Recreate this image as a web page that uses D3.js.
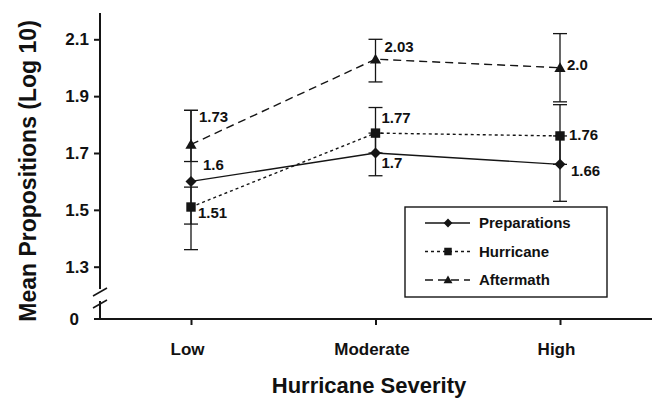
<!DOCTYPE html>
<html>
<head>
<meta charset="utf-8">
<script src="https://cdn.jsdelivr.net/npm/d3@7"></script>
<style>
  html, body { margin: 0; padding: 0; background: #fff; }
  svg { display: block; }
  text { font-family: "Liberation Sans", Arial, Helvetica, sans-serif; font-weight: bold; fill: #111; }
</style>
</head>
<body>
<svg id="chart" width="654" height="402"></svg>
<script>
// Severity levels on the x axis
const categories = ["Low", "Moderate", "High"];
const seriesNames = ["Preparations", "Hurricane", "Aftermath"];

// Mean propositions (log 10) per phase
const preparations = [1.6, 1.7, 1.66];
const hurricane = [1.51, 1.77, 1.76];
const aftermath = [1.73, 2.03, 2.0];

// Error bar bounds per phase
const preparationsLower = [1.36, 1.62, 1.53];
const preparationsUpper = [1.85, 1.77, 1.76];
const hurricaneLower = [1.45, 1.70, 1.66];
const hurricaneUpper = [1.58, 1.86, 1.87];
const aftermathLower = [1.67, 1.95, 1.88];
const aftermathUpper = [1.85, 2.10, 2.12];

const yTicks = [1.3, 1.5, 1.7, 1.9, 2.1];
const yBreakLabel = "0";
const xTitle = "Hurricane Severity";
const yTitle = "Mean Propositions (Log 10)";

const ink = "#151515";
const svg = d3.select("#chart");

const x = d3.scalePoint().domain(categories).range([191, 560]);
const y = d3.scaleLinear().domain([1.3, 2.1]).range([266.7, 39.3]);
const axisY0 = 319;   // baseline where the broken axis meets zero
const axisX0 = 100;

// Value labels keep at least one decimal place (2.0, 1.6, 1.66)
const fmtValue = v => Number.isInteger(v) ? v.toFixed(1) : String(v);

const series = [
  { name: seriesNames[0], values: preparations, lower: preparationsLower, upper: preparationsUpper,
    dash: null, marker: "diamond",
    nudge: [[12, -11], [6, 15], [11, 12]] },
  { name: seriesNames[1], values: hurricane, lower: hurricaneLower, upper: hurricaneUpper,
    dash: "3,3", marker: "square",
    nudge: [[7, 11], [6, -10], [9, 4]] },
  { name: seriesNames[2], values: aftermath, lower: aftermathLower, upper: aftermathUpper,
    dash: "8,5", marker: "triangle",
    nudge: [[8, -22], [9, -7], [7, 2]] }
];

function markerPath(kind, s) {
  if (kind === "diamond") {
    const h = s * 0.55;
    return `M0,${-h}L${h},0L0,${h}L${-h},0Z`;
  }
  if (kind === "square") {
    const h = s * 0.47;
    return `M${-h},${-h}H${h}V${h}H${-h}Z`;
  }
  const w = s * 0.56;
  return `M0,${-s * 0.55}L${w},${s * 0.42}L${-w},${s * 0.42}Z`;
}

// Y axis: ticks and labels from the scale, line drawn with a break
const yAxis = d3.axisLeft(y).tickValues(yTicks).tickFormat(d3.format(".1f")).tickSize(6).tickPadding(5);
const gy = svg.append("g").attr("transform", `translate(${axisX0},0)`).call(yAxis);
gy.select(".domain").remove();
gy.selectAll(".tick line").attr("stroke", ink).attr("stroke-width", 2);
gy.selectAll(".tick text").attr("font-size", 17).attr("fill", ink)
  .style("font-family", "'Liberation Sans', Arial, sans-serif").style("font-weight", "bold");

svg.append("line").attr("x1", axisX0).attr("x2", axisX0).attr("y1", 13).attr("y2", 289)
  .attr("stroke", ink).attr("stroke-width", 2);
svg.append("line").attr("x1", axisX0).attr("x2", axisX0).attr("y1", 301).attr("y2", axisY0 + 1)
  .attr("stroke", ink).attr("stroke-width", 2);
[292, 304].forEach(cy => {
  svg.append("line").attr("x1", axisX0 - 7).attr("y1", cy + 4).attr("x2", axisX0 + 7).attr("y2", cy - 4)
    .attr("stroke", ink).attr("stroke-width", 1.6);
});
svg.append("line").attr("x1", axisX0 - 6).attr("x2", axisX0).attr("y1", axisY0).attr("y2", axisY0)
  .attr("stroke", ink).attr("stroke-width", 2);
svg.append("text").attr("x", 79).attr("y", axisY0).attr("dy", "0.35em")
  .attr("text-anchor", "end").attr("font-size", 17).text(yBreakLabel);

// X axis
const xAxis = d3.axisBottom(x).tickSize(6).tickPadding(18);
const gx = svg.append("g").attr("transform", `translate(0,${axisY0})`).call(xAxis);
gx.select(".domain").remove();
gx.selectAll(".tick line").attr("stroke", ink).attr("stroke-width", 2);
gx.selectAll(".tick text").attr("font-size", 17).attr("fill", ink).attr("dx", -4)
  .style("font-family", "'Liberation Sans', Arial, sans-serif").style("font-weight", "bold");
svg.append("line").attr("x1", axisX0 - 1).attr("x2", 652).attr("y1", axisY0).attr("y2", axisY0)
  .attr("stroke", ink).attr("stroke-width", 2.2);

// Axis titles
svg.append("text").attr("x", 369).attr("y", 393).attr("text-anchor", "middle")
  .attr("font-size", 22).text(xTitle);
svg.append("text").attr("transform", "translate(36,171) rotate(-90)").attr("text-anchor", "middle")
  .attr("font-size", 23).text(yTitle);

// Error bars
const capHalf = 7;
series.forEach(s => {
  const g = svg.append("g");
  categories.forEach((c, i) => {
    const cx = x(c);
    g.append("line").attr("x1", cx).attr("x2", cx).attr("y1", y(s.upper[i])).attr("y2", y(s.lower[i]))
      .attr("stroke", ink).attr("stroke-width", 1.3);
    [s.upper[i], s.lower[i]].forEach(v => {
      g.append("line").attr("x1", cx - capHalf).attr("x2", cx + capHalf).attr("y1", y(v)).attr("y2", y(v))
        .attr("stroke", ink).attr("stroke-width", 1.3);
    });
  });
});

// Series lines
const line = d3.line().x((d, i) => x(categories[i])).y(d => y(d));
series.forEach(s => {
  svg.append("path").datum(s.values).attr("d", line)
    .attr("fill", "none").attr("stroke", ink).attr("stroke-width", 1.4)
    .attr("stroke-dasharray", s.dash);
});

// Markers
series.forEach(s => {
  svg.append("g").selectAll("path").data(s.values).join("path")
    .attr("transform", (d, i) => `translate(${x(categories[i])},${y(d)})`)
    .attr("d", markerPath(s.marker, 10)).attr("fill", ink);
});

// Value labels
series.forEach(s => {
  svg.append("g").selectAll("text").data(s.values).join("text")
    .attr("x", (d, i) => x(categories[i]) + s.nudge[i][0])
    .attr("y", (d, i) => y(d) + s.nudge[i][1])
    .attr("font-size", 15).text(d => fmtValue(d));
});

// Legend
const legend = svg.append("g").attr("transform", "translate(405,207)");
legend.append("rect").attr("width", 202).attr("height", 90)
  .attr("fill", "#fff").attr("stroke", ink).attr("stroke-width", 1.4);
series.forEach((s, i) => {
  const ry = 16 + i * 28.5;
  legend.append("line").attr("x1", 20).attr("x2", 65).attr("y1", ry).attr("y2", ry)
    .attr("stroke", ink).attr("stroke-width", 1.4).attr("stroke-dasharray", s.dash);
  legend.append("path").attr("transform", `translate(43,${ry})`)
    .attr("d", markerPath(s.marker, 8)).attr("fill", ink);
  legend.append("text").attr("x", 74).attr("y", ry).attr("dy", "0.36em")
    .attr("font-size", 15).text(s.name);
});
</script>
</body>
</html>
